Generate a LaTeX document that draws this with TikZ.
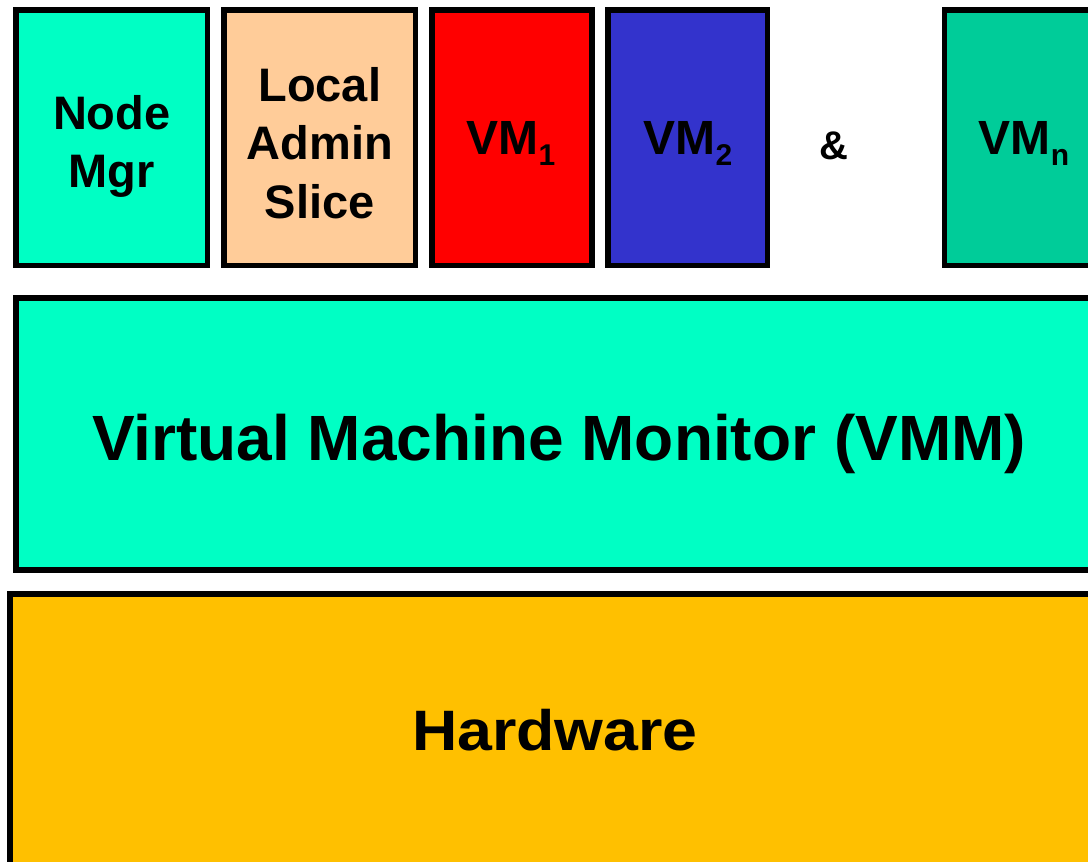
\documentclass[tikz,border=0pt]{standalone}
\usepackage{fontspec}
\setmainfont{Liberation Sans}
\definecolor{aqua}{RGB}{0,255,196}
\definecolor{peach}{RGB}{255,204,153}
\definecolor{vmred}{RGB}{255,0,0}
\definecolor{vmblue}{RGB}{51,51,204}
\definecolor{vmgreen}{RGB}{0,204,153}
\definecolor{hwgold}{RGB}{255,192,0}
\tikzset{
  layerbox/.style={draw=black, line width=5.3pt, rectangle},
  lbl/.style={inner sep=0pt, text=black, font=\bfseries\fontsize{47}{58.5}\selectfont, align=center},
  vmlbl/.style={inner sep=0pt, text=black, font=\bfseries\fontsize{48}{48}\selectfont},
  biglbl/.style={inner sep=0pt, text=black, font=\bfseries\fontsize{64}{64}\selectfont},
}
\newcommand{\vmsub}[1]{\raisebox{-11pt}{\fontsize{30}{30}\selectfont #1}}
\begin{document}
\begin{tikzpicture}[x=1pt,y=-1pt]
\useasboundingbox (0,0) rectangle (1088,862);
% top row boxes
\draw[layerbox, fill=aqua]    (16,10) rectangle (207.5,265.5);
\node[lbl, anchor=north] (nm) at (111.75,95) {Node\\Mgr};
\draw[layerbox, fill=peach]   (224,10) rectangle (415.5,265.5);
\node[lbl, anchor=north] (las) at (319.75,67) {Local\\Admin\\Slice};
\draw[layerbox, fill=vmred]   (432,10) rectangle (592,265.5);
\node[vmlbl, anchor=base] (vm1) at (511,154) {VM\vmsub{1}};
\draw[layerbox, fill=vmblue]  (608,10) rectangle (767.5,265.5);
\node[vmlbl, anchor=base] (vm2) at (688,154) {VM\vmsub{2}};
\node[inner sep=0pt, font=\bfseries\fontsize{40}{40}\selectfont, anchor=base] (amp) at (834,159) {\&};
\draw[layerbox, fill=vmgreen] (944.5,10) rectangle (1104,265.5);
\node[vmlbl, anchor=base] (vmn) at (1024,154) {VM\vmsub{n}};
% VMM layer
\draw[layerbox, fill=aqua] (16,298) rectangle (1102,570);
\node[biglbl, anchor=base] (vmm) at (559,460) {Virtual Machine Monitor (VMM)};
% Hardware layer
\draw[layerbox, fill=hwgold] (10,594) rectangle (1100,880);
\node[inner sep=0pt, font=\bfseries\fontsize{57}{57}\selectfont, anchor=base] (hw) at (555,750.7) {\scalebox{1.1}[1]{Hardware}};
\end{tikzpicture}
\end{document}
